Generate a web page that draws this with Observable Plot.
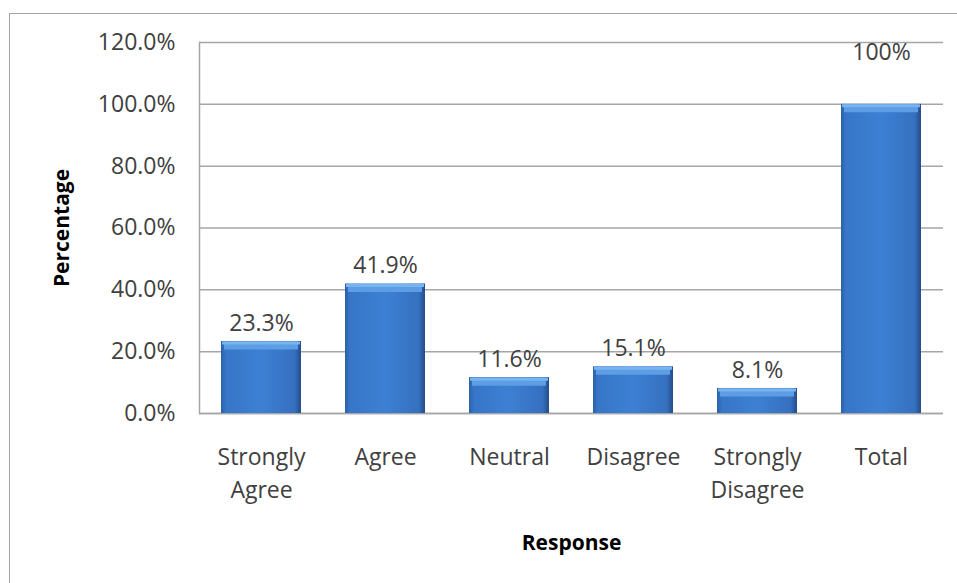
<!DOCTYPE html>
<html>
<head>
<meta charset="utf-8">
<script src="https://cdn.jsdelivr.net/npm/d3@7"></script>
<script src="https://cdn.jsdelivr.net/npm/@observablehq/plot@0.6"></script>
<style>
  html, body { margin: 0; padding: 0; background: #ffffff; }
  #wrap { position: relative; width: 957px; height: 583px; overflow: hidden; }
  #border { position: absolute; left: 9px; top: 13px; right: -10px; bottom: -10px;
            border-left: 1.5px solid #a3a3a3; border-top: 1.5px solid #a3a3a3; }
  #chart { position: absolute; left: 0; top: 0; }
  #chart svg { background: transparent; }
</style>
</head>
<body>
<div id="wrap">
  <div id="border"></div>
  <div id="chart"></div>
</div>
<script>
// Survey responses, share of respondents (%)
const categories = ["Strongly Agree", "Agree", "Neutral", "Disagree", "Strongly Disagree", "Total"];
const values = [23.3, 41.9, 11.6, 15.1, 8.1, 100];
const valueLabels = ["23.3%", "41.9%", "11.6%", "15.1%", "8.1%", "100%"];
const yTicks = [0, 20, 40, 60, 80, 100, 120];

const data = categories.map((c, i) => ({category: c, value: values[i], label: valueLabels[i]}));
const parts = data.filter(d => d.category !== "Total");
const total = data.filter(d => d.category === "Total");

// Gradient definitions used by the bars
function gradients() {
  const ns = "http://www.w3.org/2000/svg";
  const defs = document.createElementNS(ns, "defs");
  defs.innerHTML = `
    <linearGradient id="barBody" x1="0" x2="1" y1="0" y2="0">
      <stop offset="0" stop-color="#2c5fa6"/>
      <stop offset="0.06" stop-color="#3776c8"/>
      <stop offset="0.5" stop-color="#3d80d3"/>
      <stop offset="0.92" stop-color="#3670c0"/>
      <stop offset="1" stop-color="#234d88"/>
    </linearGradient>
    <linearGradient id="bevel" x1="0" x2="0" y1="0" y2="1">
      <stop offset="0" stop-color="#7bb8f2"/>
      <stop offset="1" stop-color="#4b8fdc"/>
    </linearGradient>`;
  return defs;
}

const chart = Plot.plot({
  width: 957,
  height: 583,
  marginLeft: 199,
  marginRight: 14,
  marginTop: 42,
  marginBottom: 170,
  style: {fontFamily: "'Open Sans', sans-serif", fontSize: "23px", color: "#404040", background: "transparent"},
  x: {type: "band", domain: categories, paddingInner: 0.355, paddingOuter: 0.1775},
  y: {domain: [0, 120]},
  marks: [
    gradients,
    Plot.gridY(yTicks, {stroke: "#a6a6a6", strokeOpacity: 1, strokeWidth: 1.5}),
    Plot.frame({anchor: "left", stroke: "#a6a6a6", strokeWidth: 1.5}),
    Plot.ruleY([0], {stroke: "#a6a6a6", strokeWidth: 1.5}),
    Plot.barY(data, {x: "category", y: "value", fill: "url(#barBody)"}),
    // lighter bevel along the top of each bar
    Plot.tickY(data, {x: "category", y: "value", stroke: "#5d9de3", strokeWidth: 8, dy: 4, insetLeft: 3, insetRight: 3}),
    Plot.tickY(data, {x: "category", y: "value", stroke: "#78b4ef", strokeWidth: 3, dy: 1.5, insetLeft: 1, insetRight: 1}),
    Plot.text(parts, {x: "category", y: "value", text: "label", dy: -18, fill: "#404040"}),
    Plot.text(total, {x: "category", y: "value", text: "label", dy: -52, fill: "#404040"}),
    Plot.axisY(yTicks, {tickSize: 0, tickPadding: 24, tickFormat: d => d.toFixed(1) + "%", label: null}),
    Plot.axisX({tickSize: 0, tickPadding: 29, lineHeight: 1.4, tickFormat: d => d.replace(" ", "\n"), label: null}),
    Plot.text(["Percentage"], {frameAnchor: "left", textAnchor: "middle", dx: -137, rotate: -90, fontWeight: "bold", fontSize: 21, fill: "#000000"}),
    Plot.text(["Response"], {frameAnchor: "bottom", dy: 136, fontWeight: "bold", fontSize: 21, fill: "#000000"})
  ]
});

document.getElementById("chart").appendChild(chart);
</script>
</body>
</html>
